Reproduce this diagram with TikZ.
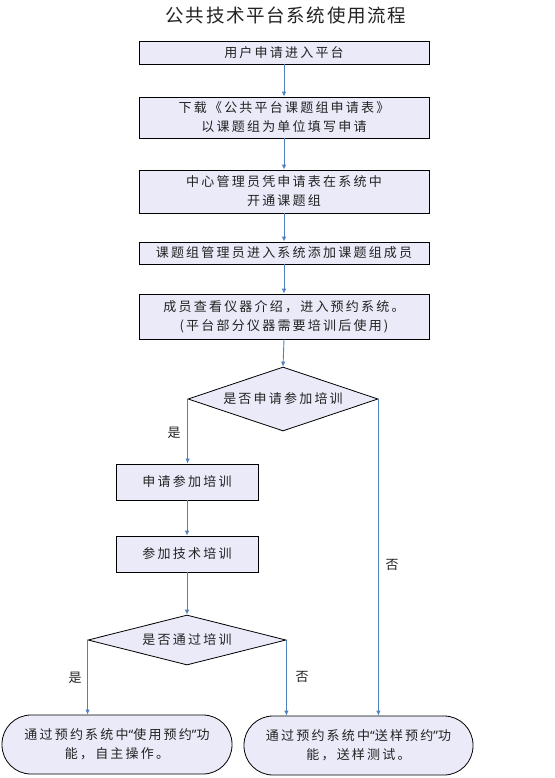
\documentclass[tikz,border=0pt]{standalone}
\usepackage{fontspec}
\newfontfamily\cjk[LetterSpace=17]{Noto Sans CJK SC}
\newfontfamily\cjktitle[LetterSpace=9]{Noto Sans CJK SC}
\newfontfamily\qf[LetterSpace=17]{Noto Sans}
\usetikzlibrary{arrows.meta,shapes.geometric}
\definecolor{boxfill}{RGB}{234,234,249}
\definecolor{arrowblue}{RGB}{79,129,189}
\definecolor{txt}{RGB}{35,35,35}
\tikzset{
  procbox/.style={draw=black, line width=0.8pt, fill=boxfill, inner sep=0pt, align=center,
    text=txt, font=\cjk\fontsize{13}{19}\selectfont},
  decbox/.style={draw=black, line width=0.8pt, fill=boxfill, shape=diamond, inner sep=0pt},
  dectext/.style={text=txt, font=\cjk\fontsize{13}{19}\selectfont, inner sep=0pt},
  endbox/.style={draw=black, line width=0.8pt, fill=boxfill, rounded corners=29pt, inner sep=0pt,
    align=center, text=txt, font=\cjk\fontsize{13}{19}\selectfont},
  flow/.style={draw=arrowblue, line width=0.9pt, -{Latex[length=5pt,width=4.5pt]}},
  lbl/.style={text=txt, font=\cjk\fontsize{13}{15}\selectfont, inner sep=0pt}
}
\begin{document}
\begin{tikzpicture}[x=1pt,y=-1pt]
\useasboundingbox[fill=white] (0,0) rectangle (554,778);
\node[text=txt, font=\cjktitle\fontsize{18.5}{20}\selectfont, inner sep=0pt] (title) at (286,15) {公共技术平台系统使用流程};
\node[procbox, minimum width=290pt, minimum height=23pt] (b1) at (284,52.5) {用户申请进入平台};
\node[procbox, minimum width=290pt, minimum height=41pt] (b2) at (284,117.5) {下载《公共平台课题组申请表》\\以课题组为单位填写申请};
\node[procbox, minimum width=290pt, minimum height=43pt] (b3) at (284,191.5) {中心管理员凭申请表在系统中\\开通课题组};
\node[procbox, minimum width=290pt, minimum height=22pt] (b4) at (284,253) {课题组管理员进入系统添加课题组成员};
\node[procbox, minimum width=290pt, minimum height=45pt] (b5) at (284,316.5) {成员查看仪器介绍，进入预约系统。\\(平台部分仪器需要培训后使用)};
\node[decbox, minimum width=190pt, minimum height=64pt] (d1) at (283,399) {};
\node[dectext] (d1t) at (283,399) {是否申请参加培训};
\node[procbox, minimum width=142pt, minimum height=36pt] (b6) at (187,482) {申请参加培训};
\node[procbox, minimum width=142pt, minimum height=36pt] (b7) at (187,554) {参加技术培训};
\node[decbox, minimum width=198pt, minimum height=50pt] (d2) at (187,640) {};
\node[dectext] (d2t) at (187,640) {是否通过培训};
\node[endbox, minimum width=230pt, minimum height=59pt] (e1) at (117,744.5) {通过预约系统中{\qf “}使用预约{\qf ”}功\\能，自主操作。};
\node[endbox, minimum width=229pt, minimum height=59pt] (e2) at (358.5,745.5) {通过预约系统中{\qf “}送样预约{\qf ”}功\\能，送样测试。};
\node[lbl] (yes1) at (174,433) {是};
\node[lbl] (no1) at (392,565) {否};
\node[lbl] (yes2) at (75,678) {是};
\node[lbl] (no2) at (302,677) {否};
\draw[flow] (b1) -- (b2);
\draw[flow] (b2) -- (b3);
\draw[flow] (b3) -- (b4);
\draw[flow] (b4) -- (b5);
\draw[flow] (b5.south) -- (d1.north);
\draw[flow] (d1.west) -- (d1.west |- b6.north);
\draw[flow] (b6) -- (b7);
\draw[flow] (b7.south) -- (d2.north);
\draw[flow] (d2.west) -- (d2.west |- e1.north);
\draw[flow] (d2.east) -- (d2.east |- e2.north);
\draw[flow] (d1.east) -- (d1.east |- e2.north);
\end{tikzpicture}
\end{document}
